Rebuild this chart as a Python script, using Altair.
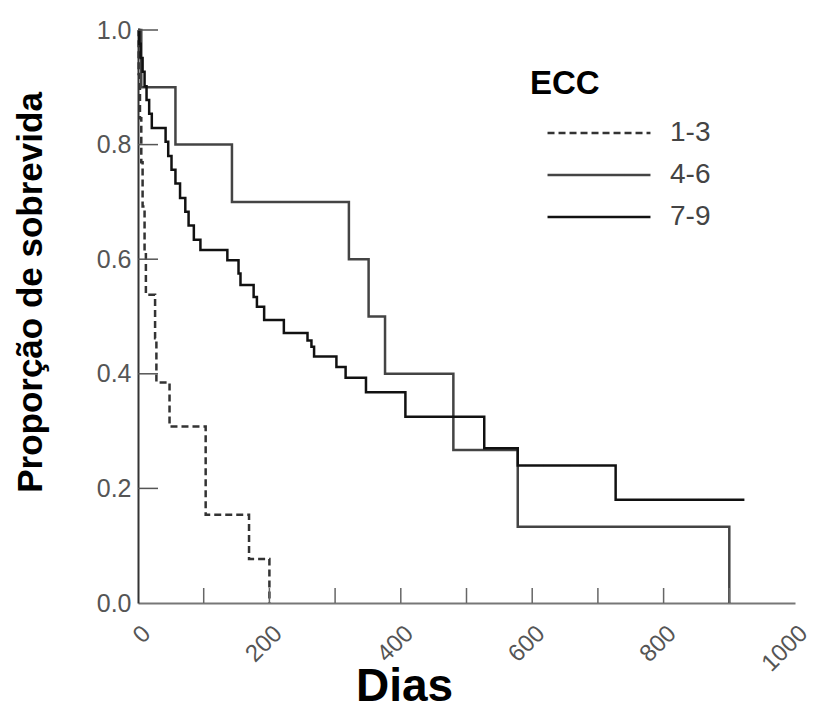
import altair as alt
import pandas as pd

# ---- data (Kaplan-Meier step curves) ----
ecc_groups = ["1-3", "4-6", "7-9"]

c13_days = [0, 1, 3, 5, 7, 10, 12, 26, 28, 48, 103, 169, 200]
c13_surv = [1.0, 0.923, 0.846, 0.769, 0.692, 0.615, 0.538, 0.462, 0.385, 0.308, 0.154, 0.077, 0.0]

c46_days = [0, 5, 57, 143, 321, 351, 376, 480, 578, 900]
c46_surv = [1.0, 0.9, 0.8, 0.7, 0.6, 0.5, 0.4, 0.267, 0.133, 0.0]

c79_days = [0, 2, 4, 7, 10, 13, 17, 21, 42, 46, 51, 57, 64, 72, 77, 85, 95, 136, 153, 156,
            176, 181, 192, 222, 258, 264, 268, 302, 316, 347, 407, 527, 578, 727, 923]
c79_surv = [1.0, 0.976, 0.951, 0.927, 0.902, 0.878, 0.854, 0.829, 0.805, 0.78, 0.756, 0.732,
            0.707, 0.683, 0.659, 0.634, 0.616, 0.598, 0.575, 0.555, 0.534, 0.517, 0.494, 0.471,
            0.458, 0.447, 0.43, 0.412, 0.393, 0.368, 0.325, 0.27, 0.24, 0.18, 0.18]

x_tick_values = [100, 200, 300, 400, 500, 600, 700, 800, 900]
x_label_values = [0, 100, 200, 300, 400, 500, 600, 700, 800, 900, 1000]
y_label_values = [0, 0.2, 0.4, 0.6, 0.8, 1.0]
y_tick_values = [0.2, 0.4, 0.6, 0.8, 1.0]

rows = []
for g, ds, ss in zip(ecc_groups, [c13_days, c46_days, c79_days], [c13_surv, c46_surv, c79_surv]):
    for d, s in zip(ds, ss):
        rows.append({"ECC": g, "dias": d, "surv": s})
df = pd.DataFrame(rows)

W, H = 657, 573
FONT = "Liberation Sans"

xs = alt.Scale(domain=[0, 1000], nice=False, zero=False)
ys = alt.Scale(domain=[0, 1], nice=False)

x_axis = alt.Axis(values=x_label_values, format="d",
                  labelExpr="datum.value % 200 == 0 ? datum.label : ''",
                  title="Dias", grid=False, tickSize=0, labelAngle=315,
                  labelFontSize=24, labelColor="#555555", labelPadding=18, labelFont=FONT,
                  domainColor="#777777", domainWidth=2,
                  titleFont=FONT, titleFontSize=46, titleFontWeight="bold", titleColor="#000000",
                  titleX=266, titleY=107, titleAlign="center", titleBaseline="bottom")
y_axis = alt.Axis(values=y_label_values, format=".1f", grid=False, tickSize=0,
                  labelFontSize=25, labelColor="#555555", labelPadding=7, labelFont=FONT,
                  domainColor="#333333", domainWidth=2,
                  title="Proporção de sobrevida", titleFont=FONT, titleFontSize=35,
                  titleFontWeight="bold", titleColor="#000000", titleAngle=270,
                  titleX=-108, titleY=262, titleAlign="center", titleBaseline="middle")

curves = alt.Chart(df).mark_line(interpolate="step-after", strokeWidth=2.5).encode(
    x=alt.X("dias:Q", scale=xs, axis=x_axis),
    y=alt.Y("surv:Q", scale=ys, axis=y_axis),
    color=alt.Color("ECC:N", scale=alt.Scale(domain=ecc_groups, range=["#333333", "#444444", "#111111"]),
                    legend=alt.Legend(title="ECC", orient="none", legendX=392, legendY=38,
                                      symbolType="stroke", symbolSize=10600, symbolStrokeWidth=2.5,
                                      symbolOffset=16, clipHeight=24, rowPadding=14,
                                      titleFont=FONT, titleFontSize=33, titleFontWeight="bold",
                                      titleColor="#000000", titlePadding=20,
                                      labelFont=FONT, labelFontSize=28, labelColor="#444444",
                                      labelOffset=18)),
    strokeDash=alt.StrokeDash("ECC:N", scale=alt.Scale(domain=ecc_groups, range=[[7, 4], [1, 0], [1, 0]]),
                              legend=alt.Legend(title="ECC")),
)

xt = alt.Chart(pd.DataFrame({"t": x_tick_values})).mark_rule(color="#666666", strokeWidth=1.5).encode(
    x=alt.X("t:Q", scale=xs, axis=x_axis), y=alt.value(H), y2=alt.value(H - 15))

yt = alt.Chart(pd.DataFrame({"v": y_tick_values})).mark_rule(color="#555555", strokeWidth=1.5).encode(
    y=alt.Y("v:Q", scale=ys, axis=y_axis), x=alt.value(0), x2=alt.value(20))

chart = alt.layer(curves, xt, yt).properties(
    width=W, height=H,
    autosize=alt.AutoSizeParams(type="none"),
    padding={"left": 130, "top": 22, "right": 16, "bottom": 108},
).configure(background="white", view=alt.ViewConfig(stroke=None))

chart.save("out.html", embed_options={"renderer": "svg", "actions": False})
